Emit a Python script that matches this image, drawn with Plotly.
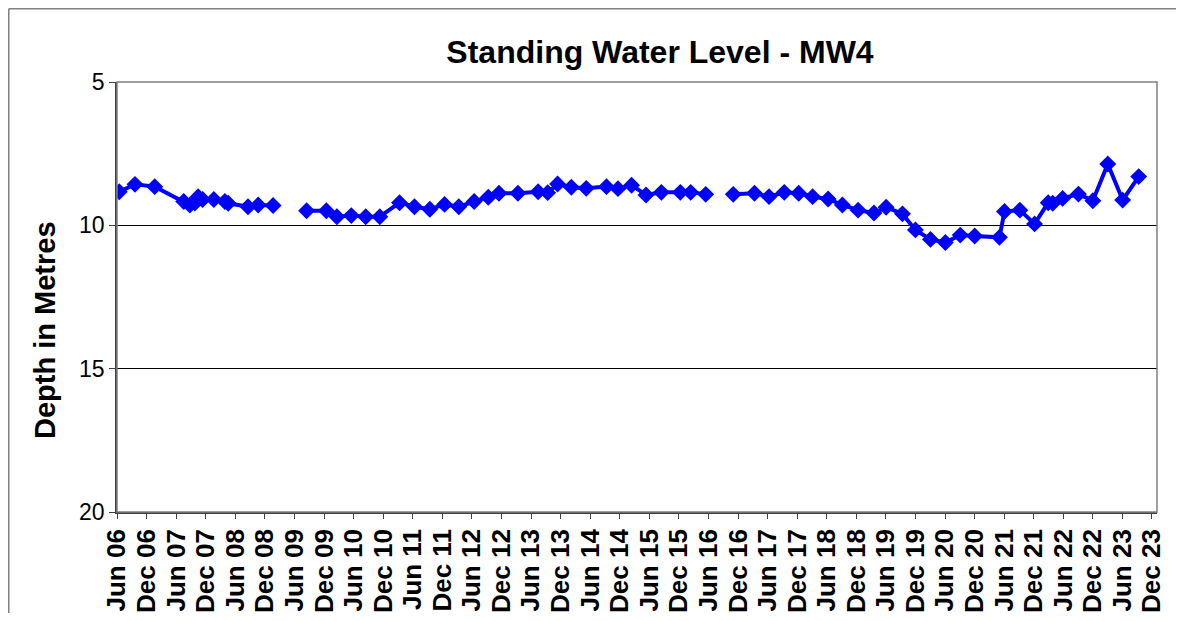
import plotly.graph_objects as go

# Sampling dates and standing water level depth (m); None marks a gap in the record
dates = [
    "2006-06-15", "2006-09-20", "2007-01-20", "2007-07-18", "2007-08-25", "2007-09-25",
    "2007-10-15", "2007-11-12", "2008-01-20", "2008-03-28", "2008-04-18", "2008-08-18",
    "2008-10-20", "2009-01-20", "2009-05-01",
    "2009-08-15", "2009-12-15", "2010-02-18", "2010-05-18", "2010-08-15", "2010-11-10",
    "2011-03-12", "2011-06-12", "2011-09-15", "2011-12-15", "2012-03-12", "2012-06-15",
    "2012-09-10", "2012-11-15", "2013-03-12", "2013-07-15", "2013-09-12", "2013-11-12",
    "2014-02-05", "2014-05-08", "2014-09-10", "2014-11-20", "2015-02-12", "2015-05-12",
    "2015-08-15", "2015-12-10", "2016-02-12", "2016-05-15", "2016-08-01",
    "2016-11-01", "2017-03-12", "2017-06-10", "2017-09-12", "2017-12-10", "2018-03-06",
    "2018-06-10", "2018-09-06", "2018-12-12", "2019-03-20", "2019-06-03", "2019-09-12",
    "2019-12-01", "2020-03-03", "2020-06-03", "2020-09-03", "2020-12-01", "2021-05-03",
    "2021-06-03", "2021-09-06", "2021-12-06", "2022-02-28", "2022-03-28", "2022-05-28",
    "2022-09-03", "2022-12-01", "2023-03-03", "2023-06-03", "2023-09-10",
]
depth = [
    8.83, 8.57, 8.65, 9.17, 9.29, 9.22,
    9.00, 9.10, 9.10, 9.17, 9.23, 9.35,
    9.29, 9.31, None,
    9.49, 9.49, 9.70, 9.66, 9.70, 9.70,
    9.21, 9.35, 9.44, 9.27, 9.35, 9.17,
    9.02, 8.88, 8.88, 8.83, 8.86, 8.56,
    8.67, 8.71, 8.65, 8.72, 8.60, 8.94,
    8.85, 8.85, 8.85, 8.92, None,
    8.92, 8.88, 9.00, 8.85, 8.88, 9.00,
    9.08, 9.29, 9.47, 9.57, 9.37, 9.60,
    10.16, 10.49, 10.60, 10.34, 10.37, 10.42,
    9.52, 9.47, 9.95, 9.21, 9.23, 9.06,
    8.91, 9.14, 7.86, 9.12, 8.30,
]

years = list(range(2006, 2024))
tick_vals = []
tick_text = []
for y in years:
    for m, name in ((6, "Jun"), (12, "Dec")):
        tick_vals.append(f"{y}-{m:02d}-01")
        tick_text.append(f"{name} {y % 100:02d}")

y_ticks = [5, 10, 15, 20]

# page body has an 8px margin, so the figure is offset by 8px and sized to fit the window
W, H = 1168, 605
L, R, T, B = 109, 19, 74, 101
pw, ph = W - L - R, H - T - B

def px_x(x):
    return (x - L) / pw

def px_y(y):
    return (H - B - y) / ph

FONT = "Arial, Liberation Sans, sans-serif"

fig = go.Figure()
fig.add_trace(go.Scatter(
    x=dates, y=depth, mode="lines+markers",
    line=dict(color="#0000FF", width=4),
    marker=dict(symbol="diamond", size=13, color="#0000FF"),
    connectgaps=False, showlegend=False,
))

fig.update_layout(
    width=W, height=H,
    margin=dict(l=L, r=R, t=T, b=B, autoexpand=False),
    paper_bgcolor="white", plot_bgcolor="white",
    font=dict(family=FONT, color="black"),
    title=dict(text="<b>Standing Water Level - MW4</b>", x=652 / W, xref="container",
               y=1 - 44 / H, yref="container", xanchor="center", yanchor="middle",
               font=dict(size=32, family=FONT, color="black")),
    xaxis=dict(
        type="date", range=["2006-06-01", "2024-01-01"], automargin=False,
        tickmode="array", tickvals=tick_vals, ticktext=tick_text, tickangle=-90,
        tickfont=dict(size=26, family=FONT, color="black", weight="bold"),
        showgrid=False, showline=True, linecolor="#404040", linewidth=1.5,
        ticks="outside", ticklen=5, tickcolor="#404040", zeroline=False,
    ),
    yaxis=dict(
        range=[20, 5], tickmode="array", tickvals=y_ticks, automargin=False,
        tickfont=dict(size=23, family=FONT, color="black"),
        showgrid=True, gridcolor="black", gridwidth=1,
        showline=True, linecolor="#404040", linewidth=1.5,
        ticks="outside", ticklen=6, tickcolor="#404040", zeroline=False,
    ),
    annotations=[dict(
        text="<b>Depth in Metres</b>", x=px_x(37), y=px_y(322), xref="paper", yref="paper",
        textangle=-90, showarrow=False, xanchor="center", yanchor="middle",
        font=dict(size=29, family=FONT, color="black"),
    )],
    shapes=[
        dict(type="rect", xref="paper", yref="paper", x0=0, x1=1, y0=0, y1=1,
             line=dict(color="#808080", width=1.5), layer="above"),
        dict(type="line", xref="paper", yref="paper", x0=px_x(0.75), x1=px_x(1400),
             y0=px_y(0.75), y1=px_y(0.75), line=dict(color="#808080", width=1.5)),
        dict(type="line", xref="paper", yref="paper", x0=px_x(0.75), x1=px_x(0.75),
             y0=px_y(900), y1=px_y(0.75), line=dict(color="#808080", width=1.5)),
    ],
)

fig.write_html("out.html")
